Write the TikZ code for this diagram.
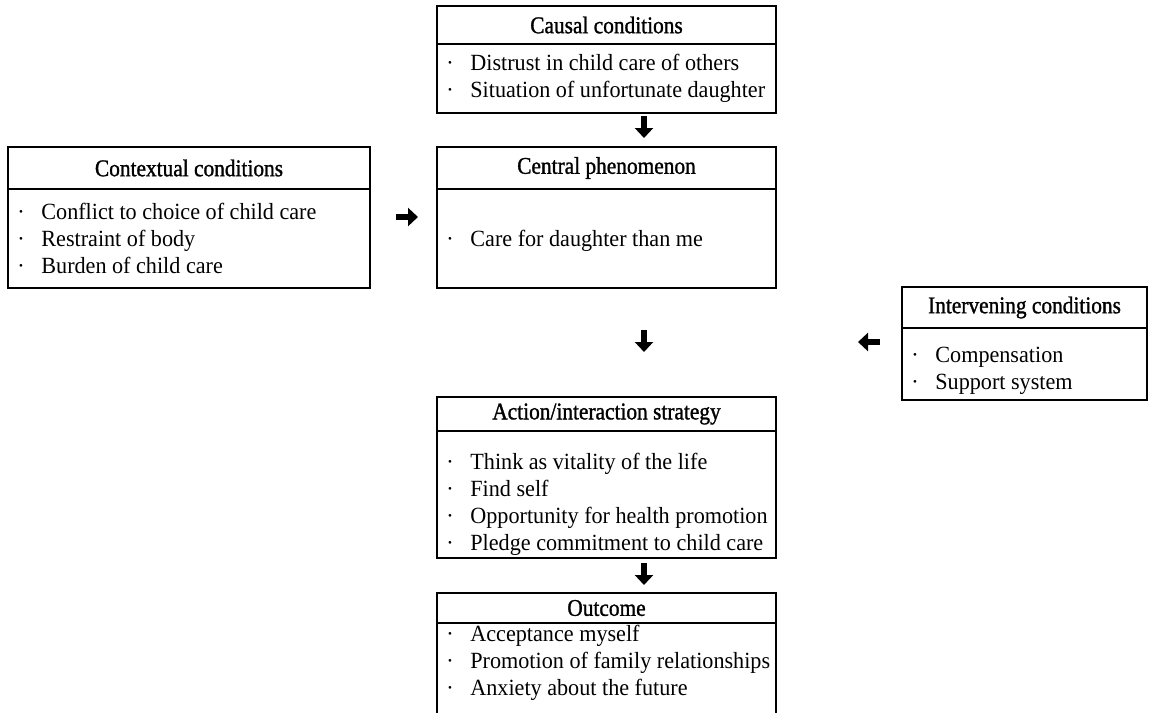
\documentclass[tikz,border=0pt]{standalone}
\usepackage{fontspec}
\setmainfont{Liberation Serif}
\newfontfamily\headfont{Liberation Serif}[FakeStretch=0.89,FakeBold=1.2]
\newfontfamily\bodyfont{Liberation Serif}[FakeStretch=0.955]
\usetikzlibrary{arrows.meta}

\newcommand{\itm}{\makebox[16.5pt][l]{\hspace{4.5pt}\textperiodcentered}}

\tikzset{
    head/.style={draw,line width=0.65pt,anchor=north west,inner sep=0pt,outer sep=0pt,
        font=\headfont\fontsize{12}{13.5}\selectfont},
    body/.style={draw,line width=0.65pt,anchor=north west,inner sep=0pt,outer sep=0pt},
    lines/.style={anchor=west,inner sep=0pt,align=left,
        font=\bodyfont\fontsize{11.6}{13.5}\selectfont},
    heavy/.style={line width=2.6pt,-{Triangle[length=5pt,width=9pt]}}
}

\begin{document}
\begin{tikzpicture}[x=0.5pt,y=-0.5pt]
    \useasboundingbox (0,0) rectangle (1149,712);

    % causal conditions
    \node[head,minimum width=169.5pt,minimum height=19pt] (causal-t) at (437,6) {Causal conditions};
    \node[body,minimum width=169.5pt,minimum height=34.5pt] (causal) at (causal-t.south west) {};
    \node[lines] (causal-x) at (437,78.5)
    {\itm Distrust in child care of others\\ \itm Situation of unfortunate daughter};

    % contextual conditions
    \node[head,minimum width=181pt,minimum height=21pt] (context-t) at (8,147) {Contextual conditions};
    \node[body,minimum width=181pt,minimum height=49.5pt] (context) at (context-t.south west) {};
    \node[lines] (context-x) at (8,238)
    {\itm Conflict to choice of child care\\ \itm Restraint of body\\ \itm Burden of child care};

    % central phenomenon
    \node[head,minimum width=169.5pt,minimum height=21pt] (central-t) at (437,147) {Central phenomenon};
    \node[body,minimum width=169.5pt,minimum height=49.5pt] (central) at (central-t.south west) {};
    \node[lines] (central-x) at (437,241) {\itm Care for daughter than me};

    % intervening conditions
    \node[head,minimum width=122.5pt,minimum height=20.5pt] (interv-t) at (902,287) {Intervening conditions};
    \node[body,minimum width=122.5pt,minimum height=36pt] (interv) at (interv-t.south west) {};
    \node[lines] (interv-x) at (902,370.5) {\itm Compensation\\ \itm Support system};

    % action/interaction strategy
    \node[head,minimum width=169.5pt,minimum height=17pt] (action-t) at (437,397) {Action/interaction strategy};
    \node[body,minimum width=169.5pt,minimum height=63.5pt] (action) at (action-t.south west) {};
    \node[lines] (action-x) at (437,504.5)
    {\itm Think as vitality of the life\\ \itm Find self\\
     \itm Opportunity for health promotion\\ \itm Pledge commitment to child care};

    % outcome (runs off the bottom)
    \node[head,minimum width=169.5pt,minimum height=15pt] (outcome-t) at (437,593) {Outcome};
    \coordinate (outcome-l) at (437,730);
    \coordinate (outcome-r) at (776,730);
    \draw[line width=0.65pt] (outcome-t.south west) -- (outcome-l);
    \draw[line width=0.65pt] (outcome-t.south east) -- (outcome-r);
    \node[lines] (outcome-x) at (437,663)
    {\itm Acceptance myself\\ \itm Promotion of family relationships\\ \itm Anxiety about the future};

    % arrows
    \coordinate (a1s) at (644,116);
    \coordinate (a1e) at (644,138);
    \coordinate (a2s) at (396,217);
    \coordinate (a2e) at (418,217);
    \coordinate (a3s) at (644,330);
    \coordinate (a3e) at (644,352);
    \coordinate (a4s) at (880,342);
    \coordinate (a4e) at (858,342);
    \coordinate (a5s) at (644,563);
    \coordinate (a5e) at (644,585);
    \draw[heavy] (a1s) -- (a1e);
    \draw[heavy] (a2s) -- (a2e);
    \draw[heavy] (a3s) -- (a3e);
    \draw[heavy] (a4s) -- (a4e);
    \draw[heavy] (a5s) -- (a5e);
\end{tikzpicture}
\end{document}
